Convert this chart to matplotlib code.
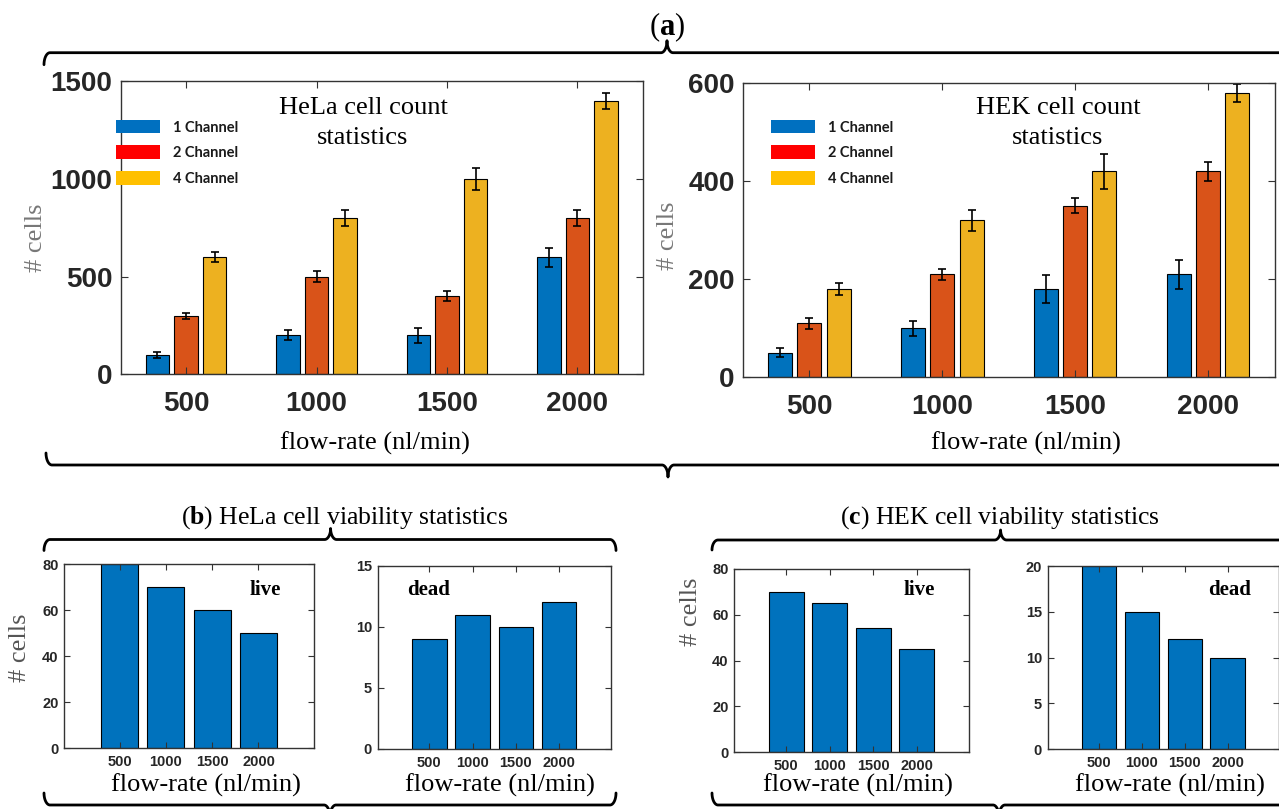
import numpy as np
import matplotlib
matplotlib.use("Agg")
import matplotlib.pyplot as plt
from matplotlib.patches import Patch

W, H = 1279, 809

# data
flow_rates = ["500", "1000", "1500", "2000"]
channels = ["1 Channel", "2 Channel", "4 Channel"]
hela_counts = [[100, 200, 200, 600], [300, 500, 400, 800], [600, 800, 1000, 1400]]
hela_err = [[14, 25, 38, 49], [15, 30, 25, 42], [24, 43, 57, 41]]
hek_counts = [[50, 100, 180, 210], [110, 210, 350, 420], [180, 320, 420, 580]]
hek_err = [[9, 15, 29, 29], [11, 11, 15, 20], [13, 22, 36, 18]]
hela_live = [80, 70, 60, 50]
hela_dead = [9, 11, 10, 12]
hek_live = [70, 65, 54, 45]
hek_dead = [20, 15, 12, 10]

bar_colors = ["#0072BD", "#D95319", "#EDB120"]
legend_colors = ["#0070C0", "#FF0000", "#FFC000"]
tick_color = "#262626"
serif = ["Liberation Serif", "DejaVu Serif"]
sans = ["Liberation Sans", "DejaVu Sans"]

plt.rcParams["mathtext.fontset"] = "custom"
plt.rcParams["mathtext.rm"] = "Liberation Serif"
plt.rcParams["mathtext.bf"] = "Liberation Serif:bold"

fig = plt.figure(figsize=(W / 100, H / 100), dpi=100)


def px(x, y):
    return x / W, 1 - y / H


def add_axes(l, r, t, b):
    return fig.add_axes([l / W, 1 - b / H, (r - l) / W, (b - t) / H])


def style(ax, size, xpad, ypad, length):
    for s in ax.spines.values():
        s.set_color("#333333")
        s.set_linewidth(1.0)
    ax.tick_params(direction="in", top=True, right=True, length=length,
                   color="#333333", labelcolor=tick_color, labelsize=size)
    ax.tick_params(axis="x", pad=xpad)
    ax.tick_params(axis="y", pad=ypad)
    for lab in ax.get_xticklabels() + ax.get_yticklabels():
        lab.set_fontfamily(sans)
        lab.set_fontweight("bold")


def count_chart(ax, counts, errs, ymax, step):
    x = np.arange(1, len(flow_rates) + 1)
    for i in range(len(channels)):
        ax.bar(x + (i - 1) * 0.22, counts[i], width=0.18, color=bar_colors[i],
               edgecolor="black", linewidth=0.8, yerr=errs[i], capsize=3,
               error_kw=dict(elinewidth=1.2, capthick=1.2, ecolor="black"))
    ax.set_xlim(0.5, 4.5)
    ax.set_ylim(0, ymax)
    ax.set_xticks(x)
    ax.set_xticklabels(flow_rates)
    ax.set_yticks(np.arange(0, ymax + 1, step))
    style(ax, 20, 12, 6, 5)


def viability_chart(ax, vals, ymax, step):
    x = np.arange(1, len(flow_rates) + 1)
    ax.bar(x, vals, width=0.8, color=bar_colors[0], edgecolor="black", linewidth=0.8)
    ax.set_xlim(-0.2, 5.2)
    ax.set_ylim(0, ymax)
    ax.set_xticks(x)
    ax.set_xticklabels(flow_rates)
    ax.set_yticks(np.arange(0, ymax + 1, step))
    style(ax, 10.5, 5, 4, 4)


# top row: cell counts
ax1 = add_axes(120.8, 642.7, 81.3, 374.3)
count_chart(ax1, hela_counts, hela_err, 1500, 500)
ax2 = add_axes(743, 1274.5, 83.3, 377.3)
count_chart(ax2, hek_counts, hek_err, 600, 200)

handles = [Patch(facecolor=c, edgecolor="none") for c in legend_colors]
for ax, lx in [(ax1, 108.6), (ax2, 763.5)]:
    leg = ax.legend(handles, channels, loc="upper left", bbox_to_anchor=px(lx, 112.5),
                    bbox_transform=fig.transFigure, frameon=False, borderpad=0,
                    handlelength=3.0, handleheight=1.05, handletextpad=0.95,
                    labelspacing=0.75, prop=dict(family=["Lato", "DejaVu Sans"],
                                                 weight="bold", size=10.5))
    for t in leg.get_texts():
        t.set_color("#1a1a1a")

lab_size = 19
fig.text(*px(363, 123), "HeLa cell count\nstatistics", ha="center", va="center",
         family=serif, fontsize=lab_size, linespacing=1.42)
fig.text(*px(1058, 123), "HEK cell count\nstatistics", ha="center", va="center",
         family=serif, fontsize=lab_size, linespacing=1.42)
fig.text(*px(375, 443), "flow-rate (nl/min)", ha="center", va="center", family=serif, fontsize=lab_size)
fig.text(*px(1026, 443), "flow-rate (nl/min)", ha="center", va="center", family=serif, fontsize=lab_size)
fig.text(*px(36, 238), "# cells", ha="center", va="center", rotation=90,
         family=serif, fontsize=lab_size, color="#777777")
fig.text(*px(668, 236), "# cells", ha="center", va="center", rotation=90,
         family=serif, fontsize=lab_size, color="#777777")

# bottom row: viability
ax3 = add_axes(64, 314, 564, 748)
viability_chart(ax3, hela_live, 80, 20)
ax4 = add_axes(377.5, 611, 565.7, 749)
viability_chart(ax4, hela_dead, 15, 5)
ax5 = add_axes(734, 969, 568.7, 752.3)
viability_chart(ax5, hek_live, 80, 20)
ax6 = add_axes(1047.5, 1279, 566, 749.3)
viability_chart(ax6, hek_dead, 20, 5)

for (x, y, s) in [(265, 590, "live"), (428.6, 590, "dead"), (919.5, 590, "live"), (1229.6, 590, "dead")]:
    fig.text(*px(x, y), s, ha="center", va="center", family=serif, fontsize=15, fontweight="bold")
for x in [206, 500, 858, 1170]:
    fig.text(*px(x, 785), "flow-rate (nl/min)", ha="center", va="center", family=serif, fontsize=lab_size)
fig.text(*px(20, 648), "# cells", ha="center", va="center", rotation=90,
         family=serif, fontsize=lab_size, color="#555555")
fig.text(*px(691, 612), "# cells", ha="center", va="center", rotation=90,
         family=serif, fontsize=lab_size, color="#555555")

fig.text(*px(667, 27), r"$\mathrm{(}\mathbf{a}\mathrm{)}$", ha="center", va="center", fontsize=22)
fig.text(*px(345, 518), r"$\mathrm{(}\mathbf{b}\mathrm{)}$ HeLa cell viability statistics",
         ha="center", va="center", family=serif, fontsize=18.5)
fig.text(*px(1000, 518), r"$\mathrm{(}\mathbf{c}\mathrm{)}$ HEK cell viability statistics",
         ha="center", va="center", family=serif, fontsize=18.5)

# curly braces drawn on a transparent overlay in pixel units
over = fig.add_axes([0, 0, 1, 1], zorder=-1)
over.set_xlim(0, W)
over.set_ylim(H, 0)
over.axis("off")


def brace(x0, x1, y, xc, e, h=12, h2=12, r=6):
    t = np.linspace(0, np.pi / 2, 20)
    xs = [x0 + r * (1 - np.cos(t))]
    ys = [y + e * h * (1 - np.sin(t))]
    xs.append(xc - r + r * np.sin(t))
    ys.append(y - e * h2 * (1 - np.cos(t)))
    xs.append(xc + r - r * np.sin(t[::-1]))
    ys.append(y - e * h2 * (1 - np.cos(t[::-1])))
    xs.append(x1 - r * (1 - np.cos(t[::-1])))
    ys.append(y + e * h * (1 - np.sin(t[::-1])))
    over.plot(np.concatenate(xs), np.concatenate(ys), color="black", lw=2,
              solid_capstyle="round")


brace(44, 1300, 52.7, 667, 1, h=12, h2=12)
brace(46, 1300, 465, 668, -1, h=12, h2=12)
brace(44, 616, 539.5, 330.6, 1, h=11, h2=11)
brace(44, 616, 805, 330, -1, h=12, h2=12)
brace(712, 1300, 540, 1000.6, 1, h=10, h2=10)
brace(712, 1300, 805, 999, -1, h=12, h2=12)

fig.savefig("out.png", dpi=100)
